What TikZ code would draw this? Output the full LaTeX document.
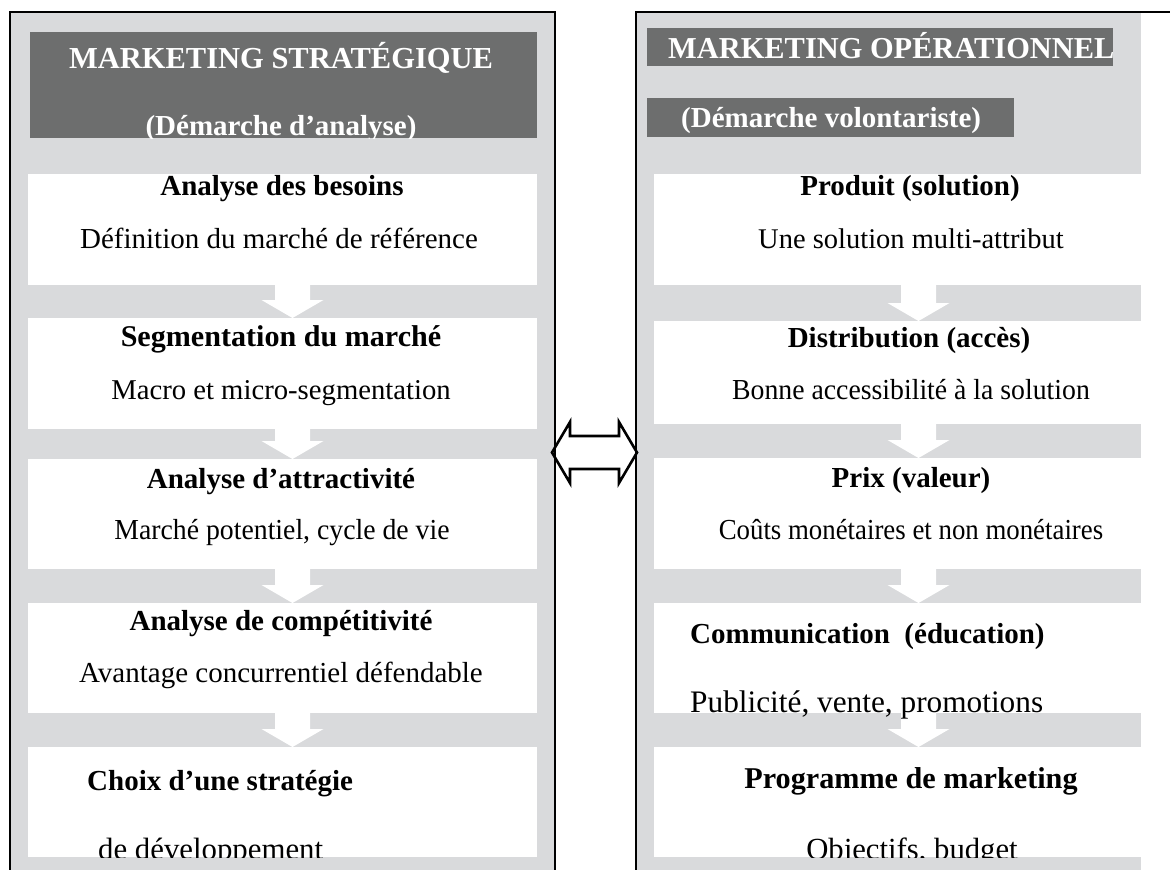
\documentclass[tikz,border=0pt]{standalone}
\usepackage{fontspec}
\setmainfont{Liberation Serif}
\usetikzlibrary{calc}
\definecolor{panelgrey}{HTML}{D9DADC}
\definecolor{hdrgrey}{HTML}{6D6E6E}
\tikzset{
  stepbox/.style={fill=white, draw=none, inner sep=0pt, outer sep=0pt, anchor=north west, minimum height=111pt},
  lbox/.style={stepbox, minimum width=509pt},
  rbox/.style={stepbox, minimum width=487pt},
  boldtxt/.style={font=\fontsize{29}{34}\selectfont\bfseries, anchor=base, inner sep=0pt},
  plaintxt/.style={font=\fontsize{29}{34}\selectfont, anchor=base, inner sep=0pt},
  hdrtxt/.style={font=\fontsize{29}{34}\selectfont\bfseries, text=white, anchor=base, inner sep=0pt},
  sz/.style={font=\fontsize{#1}{34}\selectfont},
  bsz/.style={font=\fontsize{#1}{34}\selectfont\bfseries},
  flow/.style={fill=white},
  bord/.style={line width=2pt, draw=black},
}
\newcommand\flowarrow[3]{%
  \fill[flow] ($(#1.south -| #3)+(-17.5,-1)$) -- ($(#2.north -| #3)+(-17.5,-18)$)
    -- ($(#2.north -| #3)+(-31,-18)$) -- (#2.north -| #3)
    -- ($(#2.north -| #3)+(31,-18)$) -- ($(#2.north -| #3)+(17.5,-18)$)
    -- ($(#1.south -| #3)+(17.5,-1)$) -- cycle;}
\begin{document}
\begin{tikzpicture}[x=1pt,y=-1pt]
\useasboundingbox (0,0) rectangle (1170,870);
% panels
\fill[panelgrey] (10,12) rectangle (555,870);
\fill[panelgrey] (636,12) rectangle (1141,870);
% headers
\fill[hdrgrey] (30,32) rectangle (537,138);
\fill[hdrgrey] (647,28) rectangle (1113,66);
\fill[hdrgrey] (647,98) rectangle (1014,137);
\begin{scope}
  \clip (30,32) rectangle (537,138);
  \node[hdrtxt, bsz=30.5] (hL1) at (281,68) {MARKETING STRATÉGIQUE};
  \node[hdrtxt] (hL2) at (281,135) {(Démarche d’analyse)};
\end{scope}
\begin{scope}
  \clip (647,28) rectangle (1113,66);
  \node[hdrtxt, anchor=base west, bsz=30.4] (hR1) at (668,58) {MARKETING OPÉRATIONNEL};
\end{scope}
\node[hdrtxt, anchor=base west] (hR2) at (681,127) {(Démarche volontariste)};
% boxes left
\node[lbox] (L1) at (28,174) {};
\node[lbox] (L2) at (28,318) {};
\node[lbox, minimum height=110pt] (L3) at (28,459) {};
\node[lbox, minimum height=110pt] (L4) at (28,603) {};
\node[lbox, minimum height=110pt] (L5) at (28,747) {};
% boxes right
\node[rbox] (R1) at (654,174) {};
\node[rbox, minimum height=103pt] (R2) at (654,321) {};
\node[rbox] (R3) at (654,458) {};
\node[rbox, minimum height=110pt] (R4) at (654,603) {};
\node[rbox, minimum height=110pt] (R5) at (654,747) {};
% arrow axes
\coordinate (axL) at (292.5,0);
\coordinate (axR) at (918.5,0);
\flowarrow{L1}{L2}{axL}
\flowarrow{L2}{L3}{axL}
\flowarrow{L3}{L4}{axL}
\flowarrow{L4}{L5}{axL}
\flowarrow{R1}{R2}{axR}
\flowarrow{R2}{R3}{axR}
\flowarrow{R3}{R4}{axR}
\flowarrow{R4}{R5}{axR}
% left texts
\node[boldtxt] (tL1a) at (282,195) {Analyse des besoins};
\node[plaintxt] (tL1b) at (279,248) {Définition du marché de référence};
\node[boldtxt, bsz=30.1] (tL2a) at (281,346) {Segmentation du marché};
\node[plaintxt, sz=28.7] (tL2b) at (281,399) {Macro et micro-segmentation};
\node[boldtxt] (tL3a) at (281,488) {Analyse d’attractivité};
\node[plaintxt] (tL3b) at (282,539) {\scalebox{0.957}[1]{Marché potentiel, cycle de vie}};
\node[boldtxt] (tL4a) at (281,630) {Analyse de compétitivité};
\node[plaintxt] (tL4b) at (281,682) {Avantage concurrentiel défendable};
\node[boldtxt, anchor=base west] (tL5a) at (87,790) {Choix d’une stratégie};
\begin{scope}
  \clip (L5.north west) rectangle (L5.south east);
  \node[plaintxt, anchor=base west, sz=30.8] (tL5b) at (98,859) {de développement};
\end{scope}
% right texts
\node[boldtxt] (tR1a) at (910,195) {Produit (solution)};
\node[plaintxt, sz=28.5] (tR1b) at (911,248) {Une solution multi-attribut};
\node[boldtxt] (tR2a) at (909,347) {Distribution (accès)};
\node[plaintxt] (tR2b) at (911,399) {\scalebox{0.957}[1]{Bonne accessibilité à la solution}};
\node[boldtxt] (tR3a) at (911,487) {Prix (valeur)};
\node[plaintxt] (tR3b) at (911,539) {\scalebox{0.925}[1]{Coûts monétaires et non monétaires}};
\node[boldtxt, anchor=base west] (tR4a) at (690,643) {Communication\ \ (éducation)};
\node[plaintxt, anchor=base west, sz=31.3] (tR4b) at (690,712) {Publicité, vente, promotions};
\node[boldtxt, bsz=30.2] (tR5a) at (911,788) {Programme de marketing};
\begin{scope}
  \clip (R5.north west) rectangle (R5.south east);
  \node[plaintxt, sz=30.7] (tR5b) at (912,859) {Objectifs, budget};
\end{scope}
% double arrow between panels
\coordinate (dbl) at (594.5,452.5);
\draw[line width=2.6pt, fill=white, line join=miter]
  ($(dbl)+(-42.5,0)$) -- ++(18,-30.5) -- ++(0,14) -- ++(49,0) -- ++(0,-14)
  -- ++(18,30.5) -- ++(-18,30.5) -- ++(0,-14) -- ++(-49,0) -- ++(0,14) -- cycle;
% borders
\draw[bord] (10,870) -- (10,12) -- (555,12) -- (555,870);
\draw[bord] (636,870) -- (636,12) -- (1170,12);
\end{tikzpicture}
\end{document}
